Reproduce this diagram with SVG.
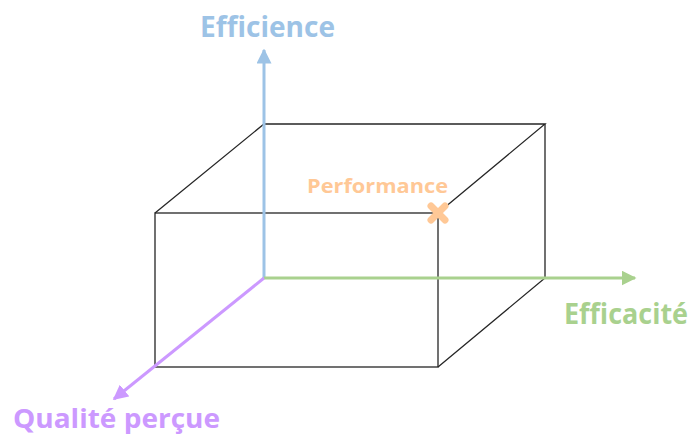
<svg xmlns="http://www.w3.org/2000/svg" width="692" height="435" viewBox="0 0 692 435">
<style>
.box{fill:none;stroke:#262626;stroke-width:1.3}
.lbl{font-family:"Open Sans","Liberation Sans",Arial,sans-serif;font-weight:bold}
</style>
<defs>
<marker id="ab" markerWidth="5" markerHeight="5" refX="4.5" refY="2.5" orient="auto" markerUnits="strokeWidth"><path d="M0,0 L5,2.5 L0,5 Z" fill="#9DC3E6"/></marker>
<marker id="ag" markerWidth="5" markerHeight="5" refX="4.5" refY="2.5" orient="auto" markerUnits="strokeWidth"><path d="M0,0 L5,2.5 L0,5 Z" fill="#A9D18E"/></marker>
<marker id="ap" markerWidth="5" markerHeight="5" refX="4.5" refY="2.5" orient="auto" markerUnits="strokeWidth"><path d="M0,0 L5,2.5 L0,5 Z" fill="#CC99FF"/></marker>
</defs>
<g id="box">
<rect class="box" x="155" y="213" width="283" height="154"/>
<polyline class="box" points="155,213 264,124 545,124 438,213"/>
<polyline class="box" points="545,124 545,278 438,367"/>
</g>
<g id="connectors">
<line x1="264" y1="278" x2="264" y2="50" stroke="#9DC3E6" stroke-width="3" marker-end="url(#ab)"/>
<line x1="264" y1="278" x2="635" y2="278" stroke="#A9D18E" stroke-width="3" marker-end="url(#ag)"/>
<line x1="264" y1="278" x2="114" y2="399" stroke="#CC99FF" stroke-width="3" marker-end="url(#ap)"/>
</g>
<g id="efficience"><text class="lbl" x="200" y="37" font-size="28" fill="#9DC3E6" textLength="135" lengthAdjust="spacingAndGlyphs">Efficience</text></g>
<g id="efficacite"><text class="lbl" x="564" y="324" font-size="28" fill="#A9D18E" textLength="124" lengthAdjust="spacingAndGlyphs">Efficacité</text></g>
<g id="qualite"><text class="lbl" x="13" y="428" font-size="27" fill="#CC99FF" textLength="207" lengthAdjust="spacingAndGlyphs">Qualité perçue</text></g>
<g id="performance">
<text class="lbl" x="307" y="193" font-size="20" fill="#FFC896" textLength="141" lengthAdjust="spacingAndGlyphs">Performance</text>
<path d="M431,206 L445,220 M445,206 L431,220" stroke="#FFC896" stroke-width="7" stroke-linecap="round"/>
</g>
</svg>
